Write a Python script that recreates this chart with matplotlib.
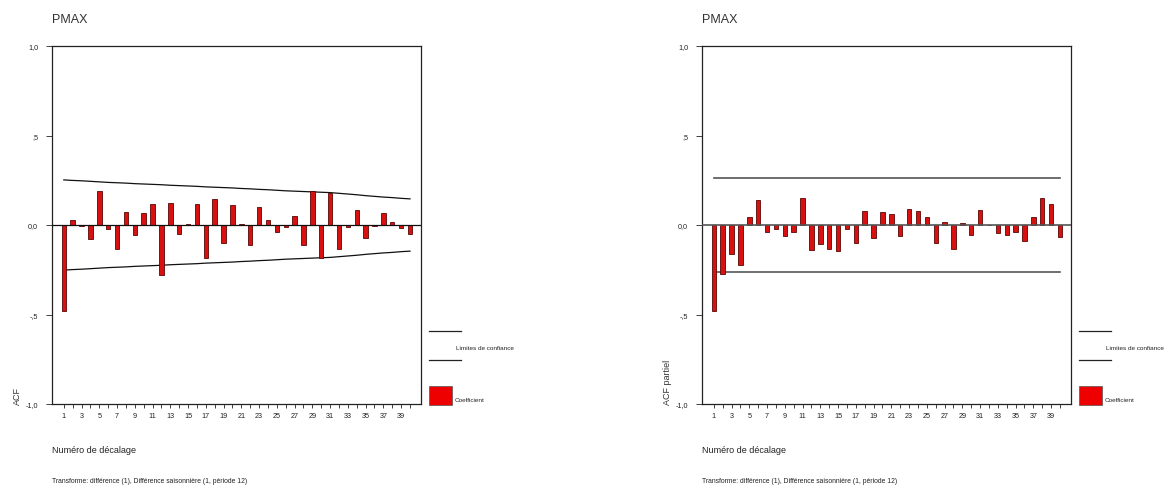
import matplotlib
matplotlib.use("Agg")
import matplotlib.pyplot as plt
from matplotlib.lines import Line2D
from matplotlib.patches import Rectangle
import numpy as np

plt.rcParams['font.family'] = ['Liberation Sans', 'DejaVu Sans']

# Lags and coefficients
lags = list(range(1, 41))
acf = [-0.478, 0.028, -0.007, -0.078, 0.192, -0.024, -0.134, 0.075, -0.056, 0.069,
       0.120, -0.280, 0.125, -0.050, 0.006, 0.120, -0.185, 0.148, -0.100, 0.114,
       0.006, -0.112, 0.100, 0.028, -0.037, -0.011, 0.050, -0.112, 0.190, -0.183,
       0.177, -0.134, -0.011, 0.084, -0.073, -0.006, 0.069, 0.019, -0.017, -0.052]
pacf = [-0.478, -0.271, -0.164, -0.226, 0.045, 0.140, -0.039, -0.022, -0.063, -0.039,
        0.151, -0.142, -0.108, -0.136, -0.148, -0.022, -0.103, 0.078, -0.075, 0.075,
        0.063, -0.063, 0.092, 0.078, 0.045, -0.103, 0.017, -0.133, 0.013, -0.058,
        0.084, 0.002, -0.045, -0.058, -0.039, -0.092, 0.045, 0.153, 0.120, -0.067]
# Confidence limits (upper bound, drawn symmetric)
acf_limit = [0.252, 0.249, 0.247, 0.244, 0.241, 0.238, 0.236, 0.234, 0.231, 0.229,
             0.227, 0.225, 0.222, 0.220, 0.218, 0.216, 0.213, 0.211, 0.209, 0.207,
             0.204, 0.202, 0.199, 0.197, 0.194, 0.191, 0.189, 0.187, 0.185, 0.183,
             0.181, 0.177, 0.173, 0.169, 0.164, 0.160, 0.156, 0.153, 0.149, 0.146]
pacf_limit = 0.26

title = "PMAX"
xlabel = "Numéro de décalage"
footnote = "Transforme: différence (1), Différence saisonnière (1, période 12)"
ytick_vals = [1.0, 0.5, 0.0, -0.5, -1.0]
ytick_text = ["1,0", ",5", "0,0", "-,5", "-1,0"]
legend_limits = "Limites de confiance"
legend_coef = "Coefficient"

W, H = 1173, 489
fig = plt.figure(figsize=(W / 100, H / 100), dpi=100)
fig.patch.set_facecolor("white")


def fx(x):
    return x / W


def fy(y):
    return 1 - y / H


def panel(x0, x1, values, ylab, limits, line_color, line_w):
    ax = fig.add_axes([fx(x0), fy(405), fx(x1) - fx(x0), fy(47) - fy(405)])
    ax.bar(lags, values, width=0.5, color="#d81010", edgecolor="#5a0505",
           linewidth=0.6, zorder=3)
    ax.axhline(0, color=line_color, lw=line_w, zorder=4)
    if np.ndim(limits) == 0:
        up = [limits] * len(lags)
    else:
        up = list(limits)
    ax.plot(lags, up, color=line_color, lw=line_w, zorder=2)
    ax.plot(lags, [-u for u in up], color=line_color, lw=line_w, zorder=2)
    ax.set_xlim(-0.33, 41.24)
    ax.set_ylim(-1.0, 1.0)
    ax.set_yticks(ytick_vals)
    ax.set_yticklabels(ytick_text)
    ax.set_xticks(lags)
    ax.set_xticklabels([str(l) if l % 2 == 1 else "" for l in lags])
    ax.tick_params(axis="both", direction="out", length=3, width=0.6,
                   labelsize=5.2, colors="#222222", pad=3)
    ax.tick_params(axis="y", length=4, pad=6)
    for s in ax.spines.values():
        s.set_linewidth(0.9)
        s.set_color("#222222")
    # Titles and labels
    fig.text(fx(x0), fy(20), title, fontsize=9, color="#333333",
             ha="left", va="center")
    fig.text(fx(x0), fy(451), xlabel, fontsize=6.5, color="#222222",
             ha="left", va="center")
    fig.text(fx(x0), fy(482), footnote, fontsize=4.85, color="#222222",
             ha="left", va="center")
    fig.text(fx(x0 - 35), fy(405), ylab, fontsize=6.5, color="#333333",
             rotation=90, ha="center", va="bottom")
    # Legend drawn beside the frame
    lx = x1 + 8
    fig.add_artist(Line2D([fx(lx), fx(lx + 32)], [fy(332), fy(332)],
                          color="#222222", lw=0.9))
    fig.add_artist(Line2D([fx(lx), fx(lx + 32)], [fy(361), fy(361)],
                          color="#222222", lw=0.9))
    fig.text(fx(lx + 27), fy(349), legend_limits, fontsize=4.6,
             color="#222222", ha="left", va="center")
    fig.add_artist(Rectangle((fx(lx), fy(406)), fx(lx + 23) - fx(lx),
                             fy(387) - fy(406), facecolor="#ee0000",
                             edgecolor="#555555", lw=0.5))
    fig.text(fx(lx + 26), fy(401), legend_coef, fontsize=4.6,
             color="#222222", ha="left", va="center")
    return ax


panel(52, 421, acf, "ACF", acf_limit, "#111111", 0.9)
panel(702, 1071, pacf, "ACF partiel", pacf_limit, "#555555", 1.2)

fig.savefig("out.png", dpi=100, facecolor="white")
